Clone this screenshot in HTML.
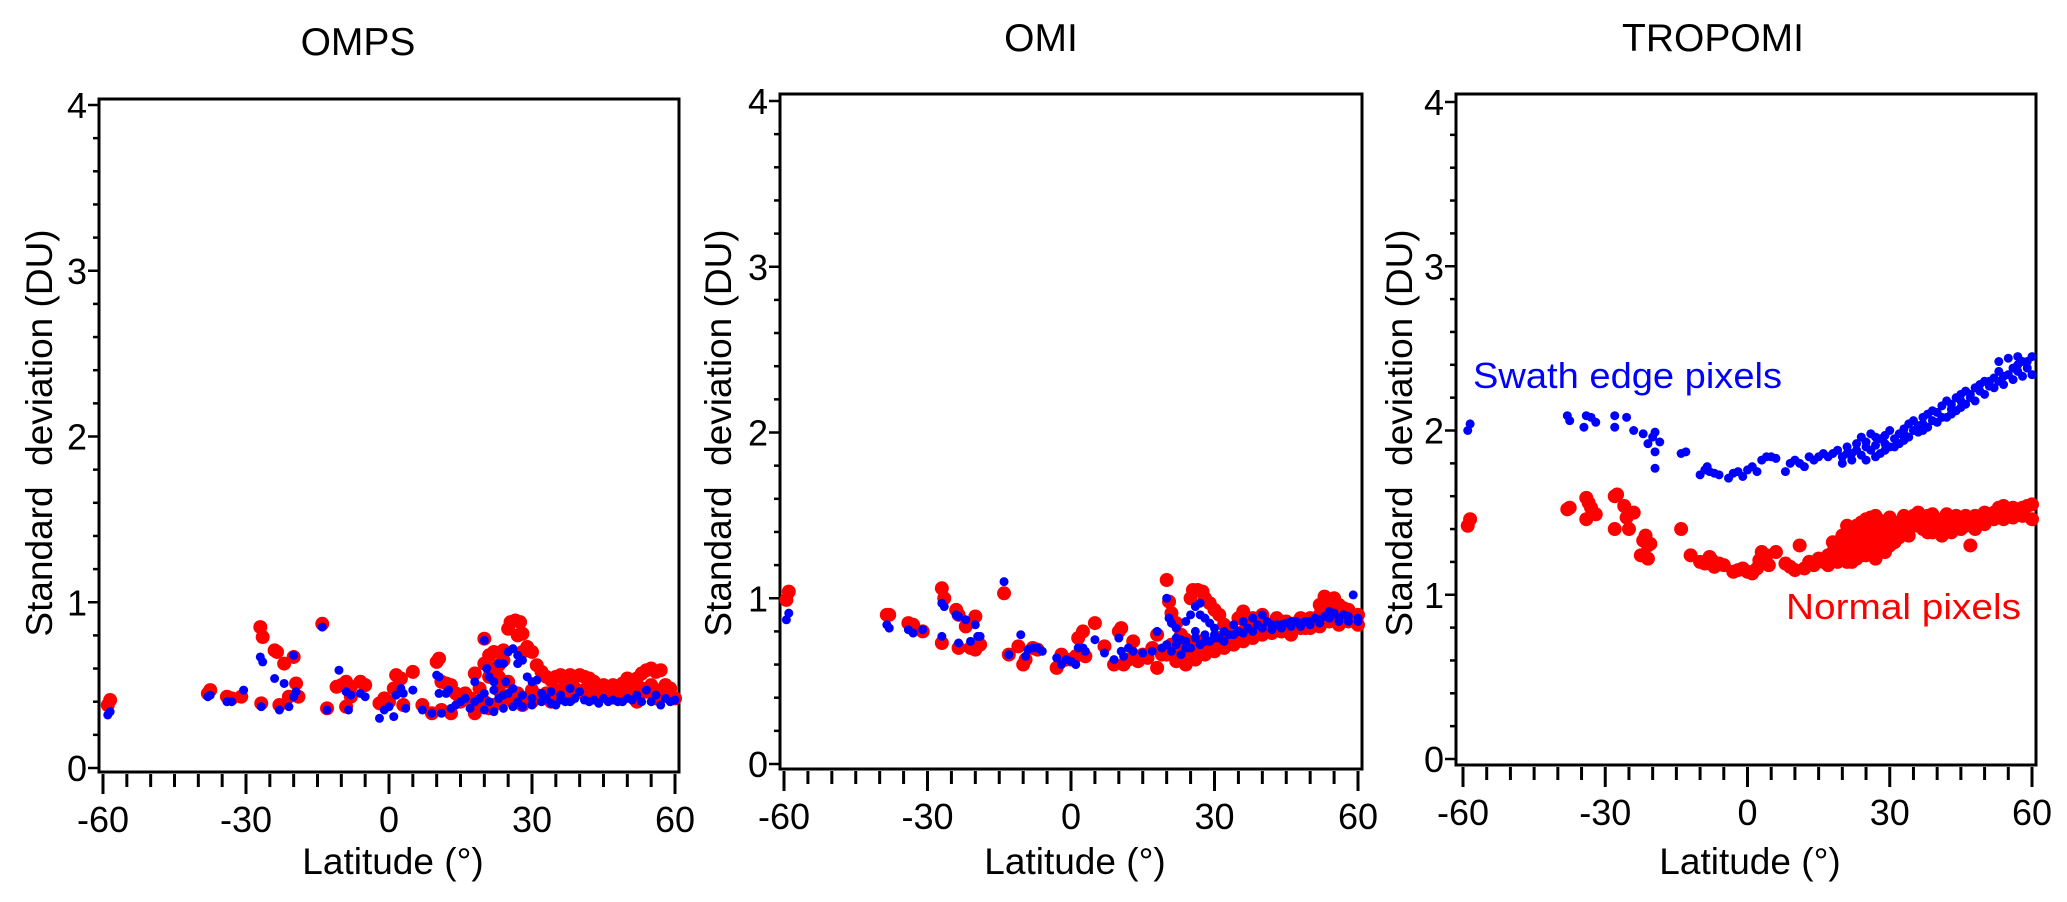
<!DOCTYPE html>
<html><head><meta charset="utf-8">
<style>
html,body{margin:0;padding:0;background:#fff;}
svg{display:block;font-family:"Liberation Sans",Arial,sans-serif;}
</style></head>
<body>
<svg id="fig" width="2067" height="902" viewBox="0 0 2067 902" xmlns="http://www.w3.org/2000/svg"></svg>
<script>
// ---- data: [latitude, standard deviation] ----
const ompsRed = [[-59,0.38],[-58.5,0.41],[-38,0.45],[-37.5,0.47],[-34,0.43],[-33,0.42],[-31,0.43],[-27,0.85],[-26.5,0.79],[-26.8,0.39],[-24,0.71],[-23.5,0.70],[-23,0.38],[-22,0.63],[-21,0.43],[-20,0.67],[-19.5,0.51],[-19,0.43],[-14,0.87],[-13,0.36],[-11,0.49],[-10,0.50],[-9,0.52],[-8,0.49],[-8,0.43],[-9,0.37],[-6,0.52],[-5,0.50],[-2,0.39],[-1,0.42],[0,0.40],[1,0.48],[1.5,0.56],[2.5,0.54],[3,0.38],[5,0.58],[7,0.38],[9,0.33],[10,0.64],[10.5,0.66],[11,0.52],[12,0.51],[13,0.50],[11,0.35],[13,0.33],[14,0.45],[16,0.45],[18,0.57],[18,0.33],[19,0.48],[20,0.78],[20,0.63],[21,0.68],[22,0.70],[23,0.55],[24,0.71],[25,0.84],[25.5,0.88],[26.5,0.89],[27.5,0.88],[27,0.80],[28,0.81],[28,0.70],[29,0.73],[30,0.70],[31,0.62],[32,0.58],[33,0.55],[34,0.53],[35,0.55],[36,0.56],[37,0.52],[38,0.56],[39,0.55],[40,0.56],[41,0.55],[42,0.54],[43,0.52],[45,0.50],[47,0.50],[49,0.51],[50,0.54],[51,0.50],[52,0.54],[53,0.57],[54,0.59],[55,0.60],[56,0.58],[57,0.59],[58,0.50],[59,0.48],[60,0.42],[15,0.40],[17,0.42],[20,0.40],[22,0.38],[24,0.42],[26,0.40],[28,0.38],[30,0.40],[32,0.42],[34,0.40],[36,0.44],[38,0.42],[40,0.46],[42,0.42],[44,0.44],[46,0.44],[48,0.42],[50,0.44],[52,0.40],[54,0.46],[56,0.42],[58,0.44],[23,0.47],[25,0.52],[27,0.45],[30,0.47],[21,0.55],[22,0.60],[23,0.62],[24,0.65],[33,0.45],[35,0.47],[37,0.46],[39,0.48],[41,0.47],[43,0.46],[45,0.45],[47,0.46],[49,0.45],[51,0.46],[53,0.48],[55,0.50],[57,0.47],[59,0.44],[19,0.38],[21,0.36],[29,0.42],[31,0.44]];
const ompsBlue = [[-59,0.32],[-58.5,0.34],[-38,0.43],[-37.5,0.44],[-34,0.40],[-33,0.40],[-30.5,0.47],[-27,0.67],[-26.5,0.64],[-26.8,0.37],[-24,0.54],[-23,0.35],[-22,0.51],[-21,0.37],[-20,0.68],[-19.5,0.46],[-20,0.43],[-14,0.85],[-13,0.35],[-10.5,0.59],[-9,0.46],[-8,0.44],[-8.5,0.35],[-6,0.45],[-5,0.43],[-2,0.30],[-1,0.35],[0,0.37],[1,0.31],[1.5,0.44],[2.5,0.48],[3,0.45],[3.5,0.36],[5,0.47],[7,0.35],[10,0.56],[10.5,0.55],[10.5,0.45],[12,0.45],[12.5,0.47],[9,0.33],[11,0.33],[13,0.36],[15,0.40],[17,0.36],[18,0.52],[20,0.77],[20.5,0.60],[21,0.55],[22,0.52],[23,0.63],[24,0.63],[24.5,0.52],[25,0.70],[26,0.72],[27,0.68],[27,0.63],[28,0.65],[29,0.55],[30,0.52],[31,0.53],[20,0.35],[22,0.34],[24,0.36],[26,0.37],[28,0.37],[30,0.38],[32,0.40],[34,0.46],[35,0.38],[36,0.44],[38,0.48],[39,0.42],[40,0.46],[42,0.40],[44,0.39],[45,0.42],[46,0.40],[48,0.40],[50,0.42],[52,0.44],[53,0.40],[54,0.47],[55,0.40],[56,0.44],[57,0.38],[58,0.42],[59,0.40],[60,0.41],[21,0.40],[23,0.42],[25,0.45],[27,0.40],[19,0.42],[33,0.42],[37,0.40],[41,0.41],[43,0.41],[47,0.41],[49,0.40],[51,0.41],[14,0.38],[16,0.42],[18,0.40],[20,0.45],[22,0.47],[24,0.44],[26,0.48],[28,0.44],[30,0.42],[32,0.45],[34,0.39],[36,0.41],[38,0.40]];
const omiRed = [[-59.5,0.99],[-59,1.04],[-38.5,0.90],[-38,0.90],[-34,0.85],[-33,0.84],[-31,0.80],[-27,1.06],[-26.5,1.00],[-27,0.73],[-24,0.93],[-23.5,0.90],[-23.5,0.70],[-22,0.83],[-21,0.70],[-20,0.69],[-20,0.89],[-19,0.72],[-14,1.03],[-13,0.66],[-11,0.71],[-10,0.60],[-9.5,0.63],[-8,0.70],[-7,0.69],[-3,0.58],[-1,0.63],[-2,0.66],[0,0.63],[1,0.65],[1.5,0.76],[2.5,0.80],[3,0.65],[5,0.85],[7,0.71],[9,0.60],[10,0.80],[10.5,0.82],[11,0.60],[12,0.63],[13,0.74],[14,0.62],[16,0.64],[18,0.78],[18,0.58],[19,0.66],[20,1.11],[20.5,0.98],[21,0.91],[22,0.85],[23,0.65],[24,0.75],[25,1.00],[25.5,1.05],[26.5,1.05],[27.5,1.04],[28,1.00],[29,0.97],[30,0.93],[31,0.90],[32,0.84],[33,0.78],[34,0.80],[35,0.88],[36,0.92],[37,0.85],[38,0.88],[39,0.86],[40,0.90],[41,0.80],[42,0.84],[43,0.88],[44,0.80],[45,0.86],[46,0.80],[47,0.85],[48,0.88],[49,0.82],[50,0.84],[51,0.87],[52,0.96],[53,1.01],[54,0.98],[55,1.00],[56,0.96],[57,0.94],[58,0.90],[59,0.88],[60,0.84],[22,0.62],[24,0.60],[26,0.63],[28,0.66],[30,0.68],[32,0.70],[34,0.72],[36,0.74],[38,0.76],[40,0.78],[42,0.79],[44,0.80],[46,0.78],[48,0.82],[50,0.82],[52,0.83],[54,0.86],[56,0.84],[58,0.86],[15,0.66],[17,0.70],[21,0.72],[23,0.78],[25,0.70],[27,0.74],[29,0.72],[31,0.76],[33,0.80],[20,0.66],[22,0.70],[24,0.68],[26,0.70],[28,0.72],[30,0.74],[32,0.76],[34,0.77],[36,0.80],[38,0.82],[40,0.84],[42,0.82],[44,0.86],[46,0.84],[48,0.85],[50,0.88],[52,0.90],[54,0.92],[56,0.90],[58,0.93],[60,0.90]];
const omiBlue = [[-59.5,0.87],[-59,0.91],[-38.5,0.84],[-38,0.82],[-34,0.81],[-33,0.79],[-31,0.81],[-27,0.97],[-26.5,0.95],[-27,0.77],[-24,0.90],[-23.5,0.89],[-23.5,0.73],[-22,0.87],[-21,0.74],[-20,0.84],[-19.5,0.77],[-19,0.77],[-14,1.10],[-13,0.66],[-10.5,0.78],[-9,0.69],[-8,0.70],[-9.5,0.65],[-7,0.70],[-6,0.68],[-3,0.64],[-1,0.63],[-2,0.60],[0,0.62],[1,0.60],[1.5,0.70],[2.5,0.70],[3,0.68],[5,0.75],[7,0.67],[9,0.63],[10,0.76],[10.5,0.68],[11,0.65],[12,0.70],[13,0.68],[15,0.67],[17,0.68],[18,0.80],[20,1.00],[20.5,0.88],[21,0.85],[22,0.82],[23,0.75],[24,0.86],[25,0.90],[26,0.95],[27,0.97],[27,0.90],[28,0.88],[29,0.85],[30,0.82],[19,0.70],[21,0.68],[23,0.66],[25,0.70],[27,0.72],[29,0.74],[31,0.76],[33,0.78],[35,0.80],[37,0.82],[39,0.84],[41,0.86],[43,0.84],[45,0.85],[47,0.86],[49,0.86],[51,0.88],[53,0.89],[55,0.91],[57,0.90],[59,1.02],[60,0.88],[34,0.84],[36,0.86],[38,0.88],[40,0.90],[42,0.84],[44,0.82],[46,0.83],[48,0.85],[50,0.84],[52,0.87],[54,0.92],[56,0.88],[58,0.86],[22,0.72],[24,0.74],[26,0.76],[28,0.78],[30,0.78],[32,0.80],[20,0.72],[22,0.76],[24,0.70],[26,0.80],[28,0.74],[30,0.76],[32,0.74],[34,0.78],[36,0.79],[38,0.80],[40,0.82],[42,0.81],[44,0.84],[46,0.86],[48,0.83],[50,0.86],[52,0.85],[54,0.88],[56,0.86],[58,0.89],[60,0.86]];
const tropRed = [[-59,1.42],[-58.5,1.46],[-38,1.52],[-37.5,1.53],[-34,1.59],[-33.5,1.56],[-33,1.53],[-34,1.46],[-32,1.49],[-28,1.60],[-27.5,1.61],[-28,1.40],[-26,1.54],[-25.5,1.47],[-25,1.40],[-24,1.50],[-22,1.33],[-21.5,1.36],[-21,1.30],[-22.5,1.24],[-21,1.22],[-20.5,1.31],[-14,1.40],[-12,1.24],[-10,1.20],[-9,1.19],[-8,1.23],[-7.5,1.21],[-7,1.17],[-6,1.19],[-5,1.18],[-3,1.14],[-2,1.15],[-1,1.16],[0,1.14],[1,1.13],[2,1.16],[2.5,1.21],[3,1.26],[4,1.24],[4.5,1.18],[6,1.26],[8,1.19],[9,1.17],[10,1.15],[11,1.30],[12,1.16],[13,1.20],[14,1.18],[15,1.22],[16,1.20],[17,1.24],[18,1.26],[19,1.29],[20,1.23],[21,1.35],[22,1.20],[23,1.42],[24,1.30],[25,1.40],[26,1.47],[27,1.48],[28,1.45],[29,1.42],[30,1.47],[31,1.38],[32,1.35],[33,1.42],[34,1.46],[35,1.48],[36,1.50],[37,1.44],[38,1.42],[39,1.49],[40,1.46],[41,1.44],[42,1.49],[43,1.42],[44,1.46],[45,1.40],[46,1.42],[47,1.30],[48,1.44],[49,1.45],[50,1.47],[51,1.49],[52,1.50],[53,1.53],[54,1.51],[55,1.52],[56,1.50],[57,1.52],[58,1.53],[59,1.54],[60,1.55],[21,1.20],[22,1.25],[23,1.22],[24,1.24],[25,1.28],[26,1.26],[27,1.30],[28,1.32],[29,1.30],[30,1.34],[31,1.36],[32,1.38],[34,1.40],[36,1.42],[38,1.38],[40,1.40],[42,1.42],[44,1.42],[46,1.44],[48,1.48],[50,1.43],[52,1.46],[54,1.46],[56,1.47],[58,1.48],[60,1.46],[20,1.30],[22,1.34],[24,1.38],[19,1.20],[17,1.18],[26,1.36],[28,1.38],[30,1.40],[35,1.43],[37,1.40],[39,1.38],[41,1.36],[43,1.38],[23,1.30],[25,1.34],[27,1.22],[29,1.26],[18,1.32],[20,1.36],[21,1.42],[22,1.40],[23,1.36],[24,1.44],[25,1.46],[26,1.42],[27,1.38],[28,1.41],[29,1.35],[30,1.30],[31,1.32],[32,1.44],[33,1.48],[34,1.36],[36,1.46],[38,1.48],[40,1.44],[42,1.46],[44,1.48],[46,1.48],[48,1.40],[50,1.50],[52,1.48],[54,1.54],[56,1.53],[58,1.50],[19,1.25],[21,1.28],[23,1.26],[25,1.24],[27,1.34]];
const tropBlue = [[-59,2.00],[-58.5,2.04],[-38,2.09],[-37.5,2.06],[-34,2.09],[-34.5,2.02],[-33,2.08],[-32,2.05],[-28,2.09],[-28,2.02],[-25.5,2.08],[-24,2.00],[-22,1.98],[-21,1.92],[-20,1.96],[-19.5,1.99],[-19.5,1.87],[-19.5,1.77],[-18.5,1.93],[-14,1.86],[-13,1.87],[-10,1.73],[-9,1.76],[-8.5,1.78],[-8,1.75],[-7,1.74],[-6,1.73],[-4,1.71],[-3,1.74],[-2,1.75],[-1,1.72],[0,1.76],[1,1.78],[2,1.75],[3,1.82],[4,1.84],[5,1.84],[6,1.83],[8,1.75],[9,1.80],[10,1.82],[11,1.80],[12,1.78],[13,1.84],[14,1.82],[15,1.84],[16,1.86],[17,1.84],[18,1.86],[19,1.88],[20,1.84],[21,1.90],[22,1.86],[23,1.92],[24,1.96],[25,1.93],[26,1.98],[27,1.91],[28,1.95],[29,1.97],[30,2.00],[31,1.95],[32,1.98],[33,2.01],[34,2.04],[35,2.06],[36,2.03],[37,2.08],[38,2.10],[39,2.12],[40,2.11],[41,2.15],[42,2.18],[43,2.16],[44,2.20],[45,2.22],[46,2.24],[47,2.22],[48,2.26],[49,2.28],[50,2.30],[51,2.27],[52,2.32],[53,2.36],[54,2.33],[55,2.44],[56,2.38],[57,2.40],[58,2.42],[59,2.38],[60,2.45],[20,1.80],[22,1.82],[24,1.85],[26,1.88],[28,1.86],[30,1.90],[32,1.92],[34,1.96],[36,1.99],[38,2.02],[40,2.05],[42,2.08],[44,2.12],[46,2.16],[48,2.18],[50,2.22],[52,2.26],[54,2.28],[56,2.31],[58,2.33],[60,2.34],[25,1.90],[27,1.84],[29,1.92],[33,1.94],[37,2.00],[43,2.10],[45,2.14],[53,2.42],[57,2.45],[21,1.86],[23,1.88],[25,1.82],[27,1.96],[29,1.88],[31,1.90],[33,1.98],[35,2.00],[37,2.04],[39,2.06],[41,2.08],[43,2.13],[45,2.18],[47,2.20],[49,2.24],[51,2.30],[53,2.30],[55,2.34],[57,2.36],[59,2.42]];
const xTickLabels = [-60,-30,0,30,60];
const yTickLabels = [0,1,2,3,4];
const panelTitles = ["OMPS","OMI","TROPOMI"];

const NS = "http://www.w3.org/2000/svg";
const svg = document.getElementById('fig');
function mk(tag, attrs, parent){
  const e = document.createElementNS(NS, tag);
  for (const k in attrs) e.setAttribute(k, attrs[k]);
  (parent||svg).appendChild(e);
  return e;
}
const panels = [
  {key:'omps', left:99, right:679, top:99, bottom:772, y4:105, y0:768, xl:103, xr:675, titleX:358, titleY:55, red:ompsRed, blue:ompsBlue, ytX:38},
  {key:'omi', left:780, right:1362, top:94, bottom:769, y4:101, y0:764, xl:784, xr:1358, titleX:1041, titleY:51, red:omiRed, blue:omiBlue, ytX:717},
  {key:'tropomi', left:1456, right:2036, top:94, bottom:765, y4:102, y0:759, xl:1463, xr:2032, titleX:1713, titleY:51, red:tropRed, blue:tropBlue, ytX:1398}
];
panels.forEach((p, i) => {
  const g = mk('g', {});
  
  
  const xs = v => p.xl + (v + 60) / 120 * (p.xr - p.xl);
  const ys = v => p.y0 - v / 4 * (p.y0 - p.y4);
  const t = mk('text', {x:p.titleX, y:p.titleY, 'font-size':39, 'text-anchor':'middle', fill:'#000'}, g);
  t.textContent = panelTitles[i];
  
  
  const box = mk('rect', {x:p.left, y:p.top, width:p.right-p.left, height:p.bottom-p.top, fill:'none', stroke:'#000', 'stroke-width':3}, g);
  
  
  for (let k = 0; k <= 20; k++) {
    const v = k * 0.2, y = ys(v), major = k % 5 === 0;
    mk('line', {x1:p.left - (major ? 11 : 6), x2:p.left, y1:y, y2:y, stroke:'#000', 'stroke-width':2.5}, g);
  }
  yTickLabels.forEach(v => {
    const tl = mk('text', {x:p.left - 12, y:ys(v) + 13, 'font-size':36, 'text-anchor':'end'}, g);
    tl.textContent = v;
    
    
  });
  for (let v = -60; v <= 60; v += 5) {
    const x = xs(v), major = v % 30 === 0;
    mk('line', {x1:x, x2:x, y1:p.bottom + 2, y2:p.bottom + (major ? 22 : 15), stroke:'#000', 'stroke-width':3}, g);
  }
  xTickLabels.forEach(v => {
    const tl = mk('text', {x:xs(v), y:p.bottom + 60, 'font-size':36, 'text-anchor':'middle'}, g);
    tl.textContent = v;
    
    
  });
  const xt = mk('text', {x:(p.left + p.right) / 2 + 4, y:874, 'font-size':37, 'text-anchor':'middle'}, g);
  xt.textContent = 'Latitude (°)';
  
  
  const yt = mk('text', {x:0, y:0, 'font-size':37, 'text-anchor':'middle', transform:'translate(' + (p.ytX + 14) + ',433) rotate(-90)'}, g);
  yt.textContent = 'Standard  deviation (DU)';
  yt.style.whiteSpace = 'pre';
  
  
  const rg = mk('g', {fill:'#ff0000'}, g);
  
  
  p.red.forEach(d => {
    const c = mk('circle', {cx:xs(d[0]), cy:ys(d[1]), r:7}, rg);
    
    
  });
  const bg = mk('g', {fill:'#0000ff'}, g);
  
  
  p.blue.forEach(d => {
    const c = mk('circle', {cx:xs(d[0]), cy:ys(d[1]), r:4.5}, bg);
    
    
  });
});
const a1 = mk('text', {x:1473, y:388, 'font-size':36, fill:'#0000ff', textLength:309, lengthAdjust:'spacingAndGlyphs'});
a1.textContent = 'Swath edge pixels';


const a2 = mk('text', {x:1786, y:619, 'font-size':36, fill:'#ff0000', textLength:235, lengthAdjust:'spacingAndGlyphs'});
a2.textContent = 'Normal pixels';


</script>
</body></html>
